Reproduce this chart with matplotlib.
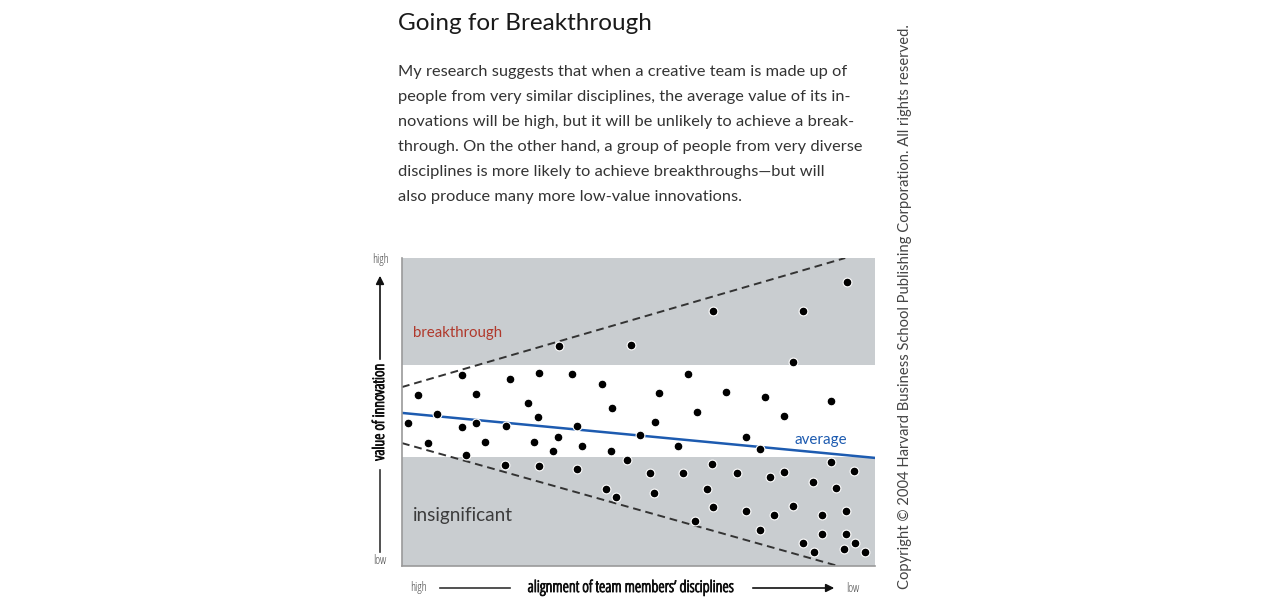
import matplotlib
matplotlib.use("Agg")
import matplotlib.pyplot as plt
import matplotlib.patheffects as pe
import numpy as np

W, H = 1280, 612

# dots (x: 0 = high alignment, 100 = low; y: 0..100 value)
dot_x = [33.2, 48.4, 65.7, 84.7, 94.1, 82.7,
         12.6, 3.4, 15.7, 22.8, 29.0, 36.0, 42.2, 26.7, 44.3, 7.5, 28.8, 1.3,
         15.6, 12.6, 21.9, 37.0, 50.4, 5.4, 17.6, 27.9, 32.9, 31.9, 38.1, 44.2,
         13.5, 47.6, 21.8, 29.0, 37.1, 43.1, 45.2,
         60.5, 54.4, 68.6, 76.7, 90.8, 62.3, 53.5, 80.8, 72.8, 58.4, 75.7,
         65.6, 90.8, 52.4, 59.5, 70.8, 77.8, 80.8, 95.6, 86.8, 53.3, 64.5, 91.8,
         65.7, 72.7, 78.6, 82.7, 88.7, 93.8, 61.9, 75.7, 88.7, 93.8, 84.7, 95.8,
         93.5, 87.0, 97.9]
dot_y = [71.3, 71.8, 82.9, 82.9, 92.3, 66.1,
         62.0, 55.4, 55.7, 60.6, 62.6, 62.3, 59.1, 52.8, 51.4, 49.4, 48.4, 46.3,
         46.5, 45.0, 45.4, 45.4, 42.4, 39.9, 40.4, 40.4, 42.0, 37.3, 39.1, 37.5,
         35.9, 34.5, 32.7, 32.5, 31.4, 25.1, 22.3,
         62.3, 56.3, 56.6, 55.0, 53.6, 50.1, 46.9, 48.8, 41.9, 39.0, 37.9,
         33.1, 33.7, 30.1, 30.1, 30.1, 28.8, 30.6, 30.8, 27.4, 23.8, 25.0, 25.4,
         19.3, 18.0, 16.6, 19.5, 16.6, 18.0, 14.6, 11.7, 10.3, 10.3, 7.4, 7.4,
         5.5, 4.4, 4.4]

# bands and lines
breakthrough_band = (65.3, 100)
insignificant_band = (0, 35.4)
upper_dash_x = [0, 93.7]
upper_dash_y = [58.1, 100]
lower_dash_x = [0, 92.2]
lower_dash_y = [39.9, 0]
avg_x = [0, 100]
avg_y = [49.7, 35.1]

title = "Going for Breakthrough"
body = ["My research suggests that when a creative team is made up of",
        "people from very similar disciplines, the average value of its in-",
        "novations will be high, but it will be unlikely to achieve a break-",
        "through. On the other hand, a group of people from very diverse",
        "disciplines is more likely to achieve breakthroughs\u2014but will",
        "also produce many more low-value innovations."]
copyright = "Copyright \u00a9 2004 Harvard Business School Publishing Corporation. All rights reserved."

gray = "#c9cdd0"
blue = "#1d5bb0"
text_col = "#333333"
plt.rcParams['font.family'] = ["Lato", 'DejaVu Sans']


def fx(px):
    return px / W


def fy(py):
    return 1 - py / H


fig = plt.figure(figsize=(W / 100, H / 100), dpi=100)
renderer = fig.canvas.get_renderer()


def fit(t, target_px, vertical=False):
    # scale font so the text spans target_px
    bb = t.get_window_extent(renderer)
    size = bb.height if vertical else bb.width
    t.set_fontsize(t.get_fontsize() * target_px / size)
    return t


ax = fig.add_axes([fx(402), fy(566), (875 - 402) / W, (566 - 258) / H])
ax.set_xlim(0, 100)
ax.set_ylim(0, 100)

ax.axhspan(*breakthrough_band, color=gray, lw=0, zorder=0)
ax.axhspan(*insignificant_band, color=gray, lw=0, zorder=0)
ax.plot(upper_dash_x, upper_dash_y, ls=(0, (4, 2.5)), color="#333333", lw=1.4, zorder=2)
ax.plot(lower_dash_x, lower_dash_y, ls=(0, (4, 2.5)), color="#333333", lw=1.4, zorder=2)
ax.plot(avg_x, avg_y, color=blue, lw=1.8, zorder=2)
ax.scatter(dot_x, dot_y, s=40, color="black", edgecolors="white", linewidths=0.8, zorder=3)

fit(ax.text(2.3, 75.5, "breakthrough", color="#b0392c", fontsize=13, va="center"), 89)
fit(ax.text(2.3, 16.5, "insignificant", color="#3c3c3c", fontsize=14.5, va="center"), 100)
fit(ax.text(88.5, 41, "average", color=blue, fontsize=13, va="center", ha="center"), 52)

for s in ["top", "right"]:
    ax.spines[s].set_visible(False)
for s in ["left", "bottom"]:
    ax.spines[s].set_color("#9a9a9a")
    ax.spines[s].set_linewidth(1.2)
ax.set_xticks([])
ax.set_yticks([])

# title and text above the chart
fit(fig.text(fx(398), fy(24), title, fontsize=16.5, color="#1a1a1a", va="center"), 253)
lines = [fig.text(fx(398), fy(72 + 25 * i), line, fontsize=12.6, color=text_col, va="center")
         for i, line in enumerate(body)]
fit(lines[0], 450)
for t in lines[1:]:
    t.set_fontsize(lines[0].get_fontsize())

# y axis guide
cond = dict(fontfamily=["Open Sans", "DejaVu Sans"], fontstretch="condensed")
heavy = [pe.withStroke(linewidth=0.7, foreground="#111111")]
small = dict(fontsize=8.5, color="#444444", **cond)
fig.text(fx(380), fy(259), "high", ha="center", va="center", **small)
fig.text(fx(380), fy(560), "low", ha="center", va="center", **small)
fit(fig.text(fx(380), fy(412), "value of innovation", ha="center", va="center",
             rotation=90, fontsize=9.5, color="#111111", path_effects=heavy, **cond),
    97, vertical=True)
fig.add_artist(plt.Line2D([fx(380), fx(380)], [fy(470), fy(552)], color="#333333", lw=1.2))
ax.annotate("", xy=(fx(380), fy(273)), xytext=(fx(380), fy(362)),
            xycoords="figure fraction", textcoords="figure fraction",
            arrowprops=dict(arrowstyle="-|>", color="#111111", lw=1.2, mutation_scale=12))

# x axis guide
fig.text(fx(418), fy(588), "high", ha="center", va="center", **small)
fig.text(fx(853), fy(588), "low", ha="center", va="center", **small)
fit(fig.text(fx(631), fy(588), "alignment of team members\u2019 disciplines", ha="center",
             va="center", fontsize=9.5, color="#111111", path_effects=heavy, **cond), 207)
fig.add_artist(plt.Line2D([fx(440), fx(510)], [fy(588), fy(588)], color="#333333", lw=1.2))
ax.annotate("", xy=(fx(837), fy(588)), xytext=(fx(750), fy(588)),
            xycoords="figure fraction", textcoords="figure fraction",
            arrowprops=dict(arrowstyle="-|>", color="#111111", lw=1.2, mutation_scale=12))

fit(fig.text(fx(905), fy(307), copyright, rotation=90, ha="center", va="center",
             fontsize=10, color="#444444"), 565, vertical=True)

fig.savefig("out.png", dpi=100)
